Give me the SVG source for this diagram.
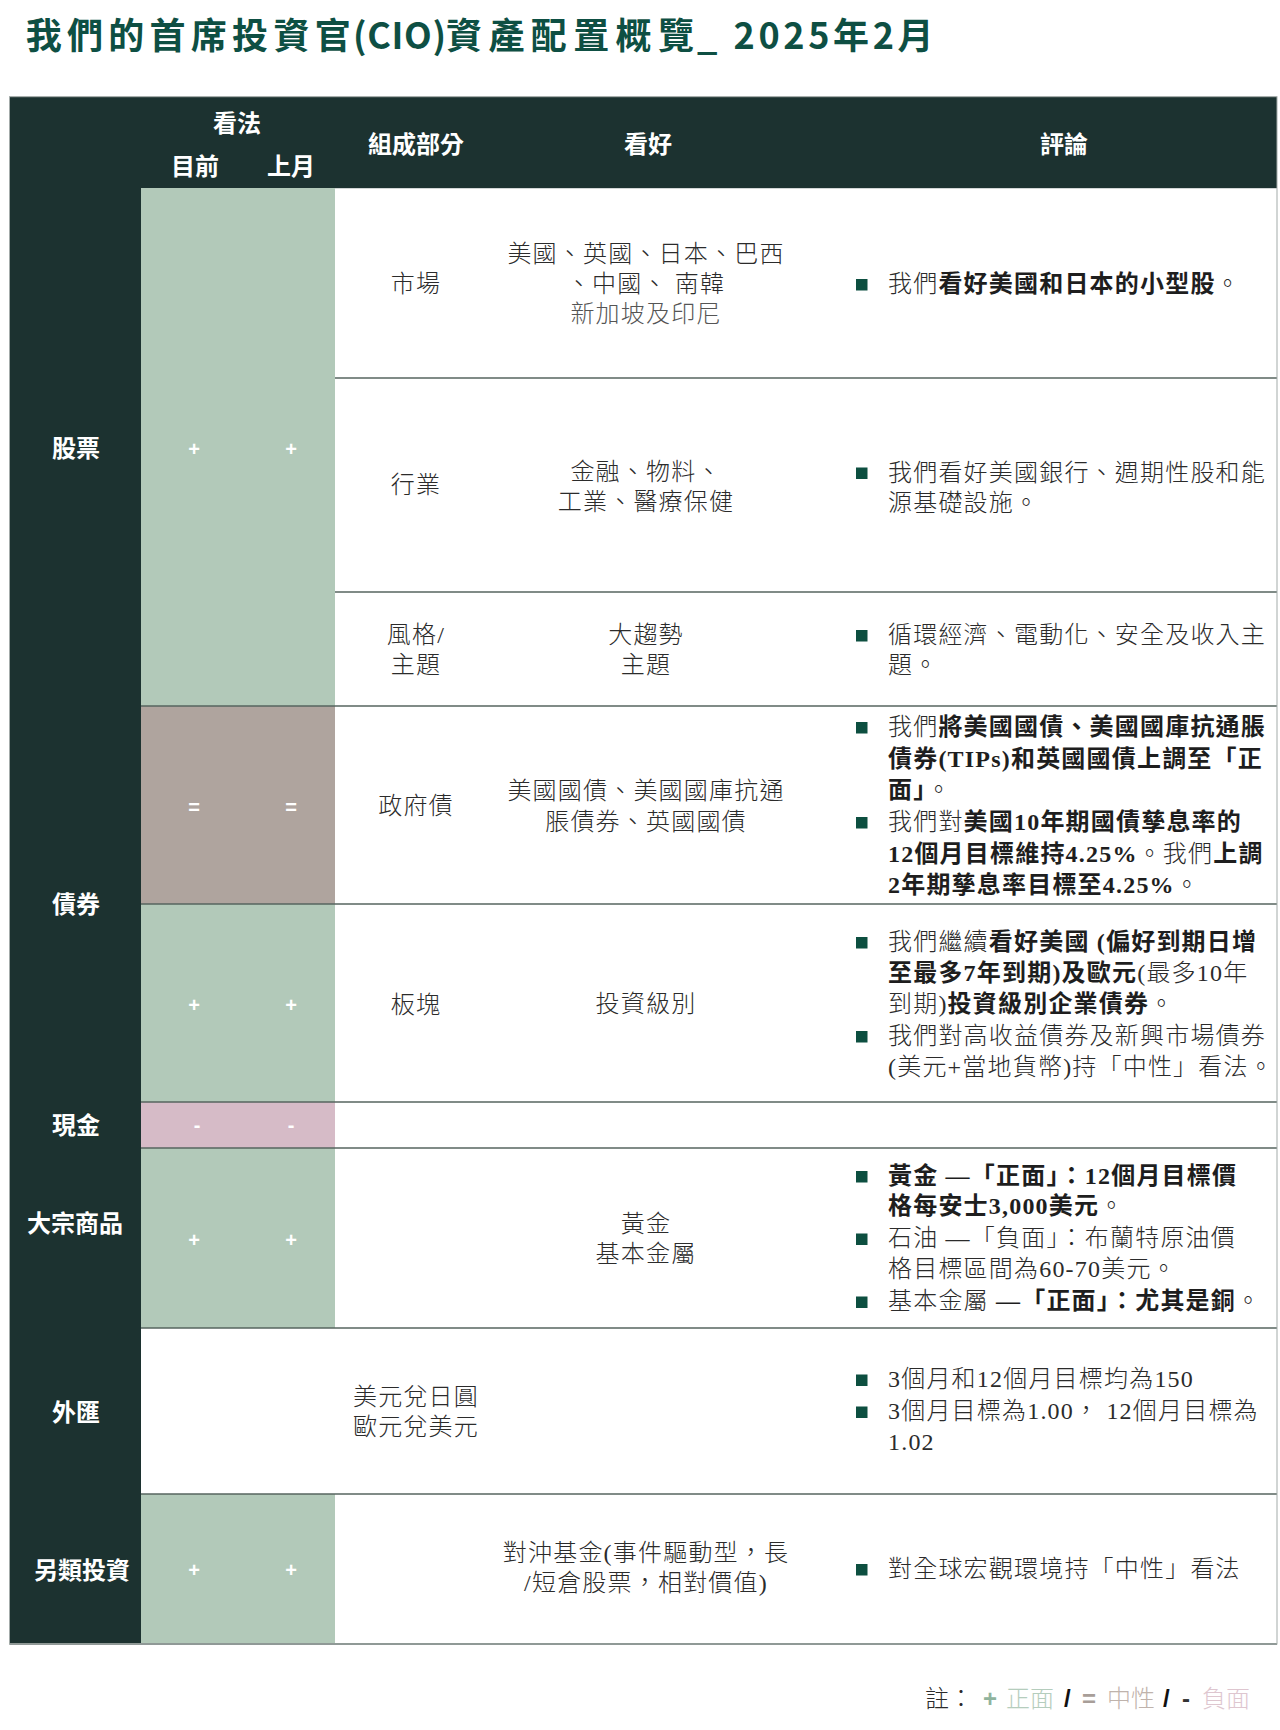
<svg xmlns="http://www.w3.org/2000/svg" width="1280" height="1730" viewBox="0 0 1280 1730">
<style>
  .title { font-family: "Noto Sans CJK TC", "Noto Sans", sans-serif; font-weight: 700; font-size: 36px; fill: #0e4f43; }
  .hd { font-family: "Noto Sans CJK TC", sans-serif; font-weight: 700; font-size: 24px; fill: #ffffff; text-anchor: middle; }
  .lbl { font-family: "Noto Sans CJK TC", sans-serif; font-weight: 700; font-size: 24px; fill: #ffffff; text-anchor: middle; }
  .sym { font-family: "Liberation Sans", "DejaVu Sans", sans-serif; font-weight: 700; font-size: 20px; fill: #ffffff; text-anchor: middle; }
  .t { font-family: "Liberation Serif", "Noto Sans CJK TC", serif; font-weight: 300; font-size: 24px; fill: #2b2b2b; letter-spacing: 1.2px; }
  .c { text-anchor: middle; }
  .b { font-weight: 700; fill: #1e1e1e; }
  .grey { fill: #555555; }
  .bul { fill: #0d4f40; }
  .ln { stroke: #56645f; stroke-width: 1.5; fill: none; }
  .pos { fill: #b2c9b9; }
  .neu { fill: #afa49e; }
  .neg { fill: #d6bbc7; }
  .dark { fill: #1c3230; }
  .ft { font-family: "Liberation Sans", "Noto Sans CJK TC", sans-serif; font-weight: 300; font-size: 24px; fill: #2b2b2b; }
</style>

<rect width="1280" height="1730" fill="#ffffff"/>

<g id="title">
  <text class="title" x="25.7" y="49" textLength="325" lengthAdjust="spacing">我們的首席投資官</text>
  <text class="title" x="353" y="49" textLength="93" lengthAdjust="spacing">(CIO)</text>
  <text class="title" x="446" y="49" textLength="248" lengthAdjust="spacing">資產配置概覽</text>
  <text class="title" x="697" y="49">_</text>
  <text class="title" x="733.6" y="49" textLength="200" lengthAdjust="spacing">2025年2月</text>
</g>

<g id="table-background">
  <rect class="dark" x="9.5" y="96.7" width="1267.5" height="91.5"/>
  <rect class="dark" x="9.5" y="188" width="131.5" height="1456"/>
  <rect class="pos" x="141" y="188" width="194" height="518"/>
  <rect class="neu" x="141" y="706" width="194" height="198"/>
  <rect class="pos" x="141" y="904" width="194" height="198"/>
  <rect class="neg" x="141" y="1102" width="194" height="46"/>
  <rect class="pos" x="141" y="1148" width="194" height="180"/>
  <rect class="pos" x="141" y="1494" width="194" height="150"/>
</g>

<g id="header">
  <text class="hd" x="237" y="132">看法</text>
  <text class="hd" x="195" y="175">目前</text>
  <text class="hd" x="291" y="175">上月</text>
  <text class="hd" x="416" y="153">組成部分</text>
  <text class="hd" x="648" y="153">看好</text>
  <text class="hd" x="1064" y="153">評論</text>
</g>

<g id="grid-lines">
  <line class="ln" x1="335" y1="378" x2="1277" y2="378"/>
  <line class="ln" x1="335" y1="592" x2="1277" y2="592"/>
  <line class="ln" x1="141" y1="706" x2="1277" y2="706"/>
  <line class="ln" x1="141" y1="904" x2="1277" y2="904"/>
  <line class="ln" x1="141" y1="1102" x2="1277" y2="1102"/>
  <line class="ln" x1="141" y1="1148" x2="1277" y2="1148"/>
  <line class="ln" x1="141" y1="1328" x2="1277" y2="1328"/>
  <line class="ln" x1="141" y1="1494" x2="1277" y2="1494"/>
  <line x1="9.5" y1="1644" x2="1277" y2="1644" stroke="#7d8784" stroke-width="2"/>
  <rect x="9.5" y="96.7" width="1267.5" height="1547.3" fill="none" stroke="#a3aba9" stroke-width="1"/>
</g>

<g id="row-equity">
  <text class="lbl" x="76" y="456.5">股票</text>
  <text class="sym" x="194" y="455.5">+</text>
  <text class="sym" x="291" y="455.5">+</text>
  <g id="equity-market">
    <text class="t c" x="416" y="292">市場</text>
    <text class="t c" x="646" y="261.5">美國、英國、日本、巴西</text>
    <text class="t c" x="646" y="292">、中國、 南韓</text>
    <text class="t c grey" x="646" y="322">新加坡及印尼</text>
    <rect class="bul" x="856" y="279" width="11.5" height="11.5"/>
    <text class="t" x="888" y="292">我們<tspan class="b">看好美國和日本的小型股</tspan>。</text>
  </g>
  <g id="equity-sector">
    <text class="t c" x="416" y="493">行業</text>
    <text class="t c" x="646" y="479.5">金融、物料、</text>
    <text class="t c" x="646" y="509.5">工業、醫療保健</text>
    <rect class="bul" x="856" y="467.5" width="11.5" height="11.5"/>
    <text class="t" x="888" y="480.5">我們看好美國銀行、週期性股和能</text>
    <text class="t" x="888" y="510.5">源基礎設施。</text>
  </g>
  <g id="equity-style">
    <text class="t c" x="416" y="643">風格/</text>
    <text class="t c" x="416" y="673">主題</text>
    <text class="t c" x="646" y="643">大趨勢</text>
    <text class="t c" x="646" y="673">主題</text>
    <rect class="bul" x="856" y="630" width="11.5" height="11.5"/>
    <text class="t" x="888" y="643">循環經濟、電動化、安全及收入主</text>
    <text class="t" x="888" y="673">題。</text>
  </g>
</g>

<g id="row-bonds">
  <text class="lbl" x="76" y="913">債券</text>
  <g id="bonds-government">
    <text class="sym" x="194" y="814">=</text>
    <text class="sym" x="291" y="814">=</text>
    <text class="t c" x="416" y="813.5">政府債</text>
    <text class="t c" x="646" y="798.5">美國國債、美國國庫抗通</text>
    <text class="t c" x="646" y="830">脹債券、英國國債</text>
    <rect class="bul" x="856" y="722" width="11.5" height="11.5"/>
    <text class="t" x="888" y="735">我們<tspan class="b">將美國國債、美國國庫抗通脹</tspan></text>
    <text class="t b" x="888" y="766.5">債券(TIPs)和英國國債上調至「正</text>
    <text class="t" x="888" y="798"><tspan class="b">面」</tspan>。</text>
    <rect class="bul" x="856" y="817" width="11.5" height="11.5"/>
    <text class="t" x="888" y="830">我們對<tspan class="b">美國10年期國債孳息率的</tspan></text>
    <text class="t" x="888" y="861.5"><tspan class="b">12個月目標維持4.25%</tspan>。我們<tspan class="b">上調</tspan></text>
    <text class="t" x="888" y="893"><tspan class="b">2年期孳息率目標至4.25%</tspan>。</text>
  </g>
  <g id="bonds-sector">
    <text class="sym" x="194" y="1012">+</text>
    <text class="sym" x="291" y="1012">+</text>
    <text class="t c" x="416" y="1012.5">板塊</text>
    <text class="t c" x="646" y="1012">投資級別</text>
    <rect class="bul" x="856" y="937" width="11.5" height="11.5"/>
    <text class="t" x="888" y="950">我們繼續<tspan class="b">看好美國 (偏好到期日增</tspan></text>
    <text class="t" x="888" y="980.5"><tspan class="b">至最多7年到期)及歐元</tspan>(最多10年</text>
    <text class="t" x="888" y="1012">到期)<tspan class="b">投資級別企業債券</tspan>。</text>
    <rect class="bul" x="856" y="1031" width="11.5" height="11.5"/>
    <text class="t" x="888" y="1043.5">我們對高收益債券及新興市場債券</text>
    <text class="t" x="888" y="1074.5">(美元+當地貨幣)持「中性」看法。</text>
  </g>
</g>

<g id="row-cash">
  <text class="lbl" x="76" y="1134">現金</text>
  <text class="sym" x="197" y="1132" font-weight="400">-</text>
  <text class="sym" x="291" y="1132" font-weight="400">-</text>
</g>

<g id="row-commodities">
  <text class="lbl" x="75" y="1232">大宗商品</text>
  <text class="sym" x="194" y="1247">+</text>
  <text class="sym" x="291" y="1247">+</text>
  <text class="t c" x="646" y="1232">黃金</text>
  <text class="t c" x="646" y="1262">基本金屬</text>
  <rect class="bul" x="856" y="1171" width="11.5" height="11.5"/>
  <text class="t b" x="888" y="1183.5">黃金 —「正面」：12個月目標價</text>
  <text class="t" x="888" y="1214"><tspan class="b">格每安士3,000美元</tspan>。</text>
  <rect class="bul" x="856" y="1233.5" width="11.5" height="11.5"/>
  <text class="t" x="888" y="1246">石油 —「負面」：布蘭特原油價</text>
  <text class="t" x="888" y="1277">格目標區間為60-70美元。</text>
  <rect class="bul" x="856" y="1296.5" width="11.5" height="11.5"/>
  <text class="t" x="888" y="1309">基本金屬 <tspan class="b">—「正面」：尤其是銅</tspan>。</text>
</g>

<g id="row-fx">
  <text class="lbl" x="76" y="1421">外匯</text>
  <text class="t c" x="416" y="1404.5">美元兌日圓</text>
  <text class="t c" x="416" y="1434.5">歐元兌美元</text>
  <rect class="bul" x="856" y="1374.5" width="11.5" height="11.5"/>
  <text class="t" x="888" y="1387">3個月和12個月目標均為150</text>
  <rect class="bul" x="856" y="1406.5" width="11.5" height="11.5"/>
  <text class="t" x="888" y="1419">3個月目標為1.00， 12個月目標為</text>
  <text class="t" x="888" y="1450">1.02</text>
</g>

<g id="row-alternatives">
  <text class="lbl" x="82" y="1578.5">另類投資</text>
  <text class="sym" x="194" y="1577">+</text>
  <text class="sym" x="291" y="1577">+</text>
  <text class="t c" x="646" y="1561">對沖基金(事件驅動型，長</text>
  <text class="t c" x="646" y="1591">/短倉股票，相對價值)</text>
  <rect class="bul" x="856" y="1564" width="11.5" height="11.5"/>
  <text class="t" x="888" y="1576.5">對全球宏觀環境持「中性」看法</text>
</g>

<g id="legend">
  <text class="ft" y="1706.5"><tspan x="925">註：</tspan><tspan x="983" fill="#8fb39d" font-weight="700">+</tspan><tspan x="1006" fill="#b5cdbd">正面</tspan><tspan x="1064" fill="#111111" font-weight="700">/</tspan><tspan x="1082" fill="#a89e98" font-weight="700">=</tspan><tspan x="1107" fill="#bfb3ac">中性</tspan><tspan x="1163" fill="#111111" font-weight="700">/</tspan><tspan x="1182" fill="#333333" font-weight="700">-</tspan><tspan x="1202" fill="#dec6cf">負面</tspan></text>
</g>
</svg>
